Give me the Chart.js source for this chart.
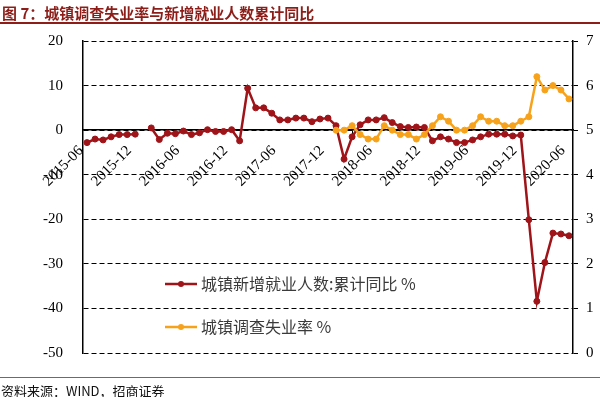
<!DOCTYPE html>
<html>
<head>
<meta charset="utf-8">
<script src="https://cdn.jsdelivr.net/npm/chart.js@4.4.1/dist/chart.umd.min.js"></script>
<style>
  html, body { margin: 0; padding: 0; background: #fff; }
  #wrap { position: relative; width: 600px; height: 397px; overflow: hidden; }
  #chart { position: absolute; left: 0; top: 0; }
  #title { position: absolute; left: 2px; top: 2px; font: bold 15px "Noto Sans CJK SC", sans-serif; color: #8c1d18; white-space: nowrap; }
  #title-line { position: absolute; left: 0; top: 22px; width: 600px; height: 2px; background: #8c1d18; }
  #src-line { position: absolute; left: 0; top: 377px; width: 600px; height: 1px; background: #b94a48; }
  #source { position: absolute; left: 1px; top: 381px; font: 13px "Noto Sans CJK SC", sans-serif; color: #111; white-space: nowrap; }
</style>
</head>
<body>
<div id="wrap">
  <canvas id="chart" width="600" height="397"></canvas>
  <div id="title">图 7：城镇调查失业率与新增就业人数累计同比</div>
  <div id="title-line"></div>
  <div id="src-line"></div>
  <div id="source">资料来源：WIND，招商证券</div>
</div>
<script>
const months = [
  "2015-06", "2015-07", "2015-08", "2015-09", "2015-10", "2015-11", "2015-12",
  "2016-01", "2016-02", "2016-03", "2016-04", "2016-05", "2016-06",
  "2016-07", "2016-08", "2016-09", "2016-10", "2016-11", "2016-12",
  "2017-01", "2017-02", "2017-03", "2017-04", "2017-05", "2017-06",
  "2017-07", "2017-08", "2017-09", "2017-10", "2017-11", "2017-12",
  "2018-01", "2018-02", "2018-03", "2018-04", "2018-05", "2018-06",
  "2018-07", "2018-08", "2018-09", "2018-10", "2018-11", "2018-12",
  "2019-01", "2019-02", "2019-03", "2019-04", "2019-05", "2019-06",
  "2019-07", "2019-08", "2019-09", "2019-10", "2019-11", "2019-12",
  "2020-01", "2020-02", "2020-03", "2020-04", "2020-05", "2020-06",
];

// 城镇新增就业人数:累计同比 % (left axis)
const newJobsYoY = [
  -2.8, -2.0, -2.2, -1.5, -1.0, -1.0, -0.9,
  null, 0.5, -2.1, -0.7, -0.8, -0.2,
  -1.0, -0.6, 0.1, -0.3, -0.3, 0.1,
  -2.4, 9.4, 5.0, 5.0, 3.8, 2.3,
  2.3, 2.7, 2.7, 1.9, 2.5, 2.7,
  1.0, -6.5, -1.5, 1.2, 2.3, 2.3,
  2.8, 1.7, 0.8, 0.6, 0.7, 0.6,
  -2.4, -1.5, -2.0, -2.8, -2.8, -2.2,
  -1.5, -0.9, -0.9, -0.9, -1.3, -1.1,
  -20.1, -38.4, -29.7, -23.1, -23.3, -23.7,
];

// 城镇调查失业率 % (right axis)
const unemployment = [
  null, null, null, null, null, null, null,
  null, null, null, null, null, null,
  null, null, null, null, null, null,
  null, null, null, null, null, null,
  null, null, null, null, null, null,
  5.0, 5.0, 5.1, 4.9, 4.8, 4.8,
  5.1, 5.0, 4.9, 4.9, 4.8, 4.9,
  5.1, 5.3, 5.2, 5.0, 5.0, 5.1,
  5.3, 5.2, 5.2, 5.1, 5.1, 5.2,
  5.3, 6.2, 5.9, 6.0, 5.9, 5.7,
];

const RED = "#9e1419";
const ORANGE = "#f7a21b";
const SERIF = "'Liberation Serif', 'DejaVu Serif', serif";

// legend drawn inside the plot area
const insideLegend = {
  id: "insideLegend",
  afterDatasetsDraw(chart) {
    const ctx = chart.ctx;
    const items = [
      { text: "城镇新增就业人数:累计同比 %", color: RED, y: 284 },
      { text: "城镇调查失业率 %", color: ORANGE, y: 327 },
    ];
    ctx.save();
    items.forEach((it) => {
      ctx.strokeStyle = it.color;
      ctx.lineWidth = 2.5;
      ctx.beginPath();
      ctx.moveTo(165, it.y);
      ctx.lineTo(197, it.y);
      ctx.stroke();
      ctx.fillStyle = it.color;
      ctx.beginPath();
      ctx.arc(181, it.y, 3, 0, Math.PI * 2);
      ctx.fill();
      ctx.fillStyle = "#3a3a3a";
      ctx.font = "16px 'Noto Sans CJK SC', sans-serif";
      ctx.textBaseline = "middle";
      ctx.fillText(it.text, 201, it.y);
    });
    ctx.restore();
  },
};

new Chart(document.getElementById("chart"), {
  type: "line",
  data: {
    labels: months,
    datasets: [
      {
        label: "城镇新增就业人数:累计同比 %",
        data: newJobsYoY,
        yAxisID: "y",
        borderColor: RED,
        backgroundColor: RED,
        borderWidth: 2.5,
        pointRadius: 3,
        pointBorderWidth: 1,
        pointBackgroundColor: RED,
        pointBorderColor: RED,
        tension: 0,
        spanGaps: false,
        order: 1,
      },
      {
        label: "城镇调查失业率 %",
        data: unemployment,
        yAxisID: "y1",
        borderColor: ORANGE,
        backgroundColor: ORANGE,
        borderWidth: 2.5,
        pointRadius: 3,
        pointBorderWidth: 1,
        pointBackgroundColor: ORANGE,
        pointBorderColor: ORANGE,
        tension: 0,
        spanGaps: false,
        order: 0,
      },
    ],
  },
  options: {
    responsive: false,
    animation: false,
    devicePixelRatio: 1,
    layout: { padding: { top: 41, bottom: 44, left: 0, right: 0 } },
    plugins: { legend: { display: false }, tooltip: { enabled: false } },
    scales: {
      x: {
        position: { y: 0 },
        offset: true,
        grid: {
          offset: true,
          drawOnChartArea: false,
          drawTicks: true,
          tickLength: 5,
          color: (c) => (c.index % 6 === 0 ? "#000" : "rgba(0,0,0,0)"),
        },
        border: { display: true, color: "#000", width: 1.5 },
        ticks: {
          autoSkip: false,
          minRotation: 45,
          maxRotation: 45,
          padding: 7,
          labelOffset: -6,
          color: "#000",
          font: { family: SERIF, size: 15 },
          callback: (v, i) => (i % 6 === 0 ? months[i] : null),
        },
      },
      y: {
        position: "left",
        min: -50,
        max: 20,
        afterFit: (s) => { s.width = 83; },
        grid: { color: "#000", lineWidth: 1, drawTicks: false },
        border: { display: true, color: "#000", width: 1.5, dash: [5, 3] },
        ticks: {
          stepSize: 10,
          padding: 20,
          color: "#000",
          font: { family: SERIF, size: 15 },
        },
      },
      y1: {
        position: "right",
        min: 0,
        max: 7,
        afterFit: (s) => { s.width = 27; },
        grid: { drawOnChartArea: false, drawTicks: true, tickLength: 5, tickColor: "#000" },
        border: { display: true, color: "#000", width: 1.5 },
        ticks: {
          stepSize: 1,
          padding: 8,
          color: "#000",
          font: { family: SERIF, size: 15 },
        },
      },
    },
  },
  plugins: [insideLegend],
});
</script>
</body>
</html>
